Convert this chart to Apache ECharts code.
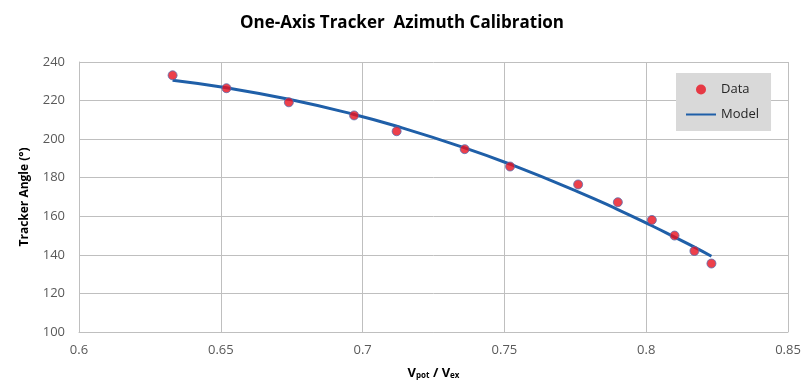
<!DOCTYPE html>
<html>
<head>
<meta charset="utf-8">
<script src="https://cdn.jsdelivr.net/npm/echarts@6/dist/echarts.min.js"></script>
<style>
html, body { margin: 0; padding: 0; background: #fff; }
#chart { width: 804px; height: 390px; }
</style>
</head>
<body>
<div id="chart"></div>
<script>
// measured points
var ratioData = [0.633, 0.652, 0.674, 0.697, 0.712, 0.736, 0.752, 0.776, 0.790, 0.802, 0.810, 0.817, 0.823];
var angleData = [233.1, 226.4, 219.1, 212.3, 204.1, 194.8, 185.8, 176.5, 167.3, 158.1, 150.0, 142.0, 135.5];
// fitted model read at the same ratios
var modelData = [230.5, 226.6, 220.7, 212.8, 206.7, 195.5, 187.0, 172.7, 163.5, 155.1, 149.2, 144.0, 139.3];

var chart = echarts.init(document.getElementById('chart'));

function pairs(xs, ys) {
    var out = [];
    for (var i = 0; i < xs.length; i++) {
        out.push([xs[i], ys[i]]);
    }
    return out;
}

var option = {
    animation: false,
    textStyle: { fontFamily: 'Open Sans' },
    title: {
        text: 'One-Axis Tracker  Azimuth Calibration',
        left: 'center',
        top: 10,
        textStyle: {
            fontFamily: 'Open Sans',
            fontSize: 17,
            fontWeight: 'bold',
            color: '#000'
        }
    },
    grid: {
        left: 79,
        right: 16,
        top: 62,
        bottom: 58
    },
    legend: {
        orient: 'vertical',
        left: 676,
        top: 73,
        width: 95,
        padding: [10, 12, 10, 10],
        itemGap: 12,
        backgroundColor: '#d9d9d9',
        itemWidth: 30,
        itemHeight: 10,
        textStyle: { color: '#262626', fontSize: 13, fontFamily: 'Open Sans' },
        data: [
            { name: 'Data', icon: 'circle', itemStyle: { color: '#e8101e', borderWidth: 0 } },
            { name: 'Model', icon: 'path://M0,4 L30,4 L30,6 L0,6 Z', itemStyle: { color: '#1f5fa8' } }
        ]
    },
    xAxis: {
        type: 'value',
        min: 0.6,
        max: 0.85,
        interval: 0.05,
        name: '{b|V}{s|pot}{b| / V}{s|ex}',
        nameLocation: 'middle',
        nameGap: 34,
        nameTextStyle: {
            rich: {
                b: { fontSize: 13, fontWeight: 'bold', color: '#000', fontFamily: 'Open Sans' },
                s: { fontSize: 8, fontWeight: 'bold', color: '#000', fontFamily: 'Open Sans', verticalAlign: 'bottom', padding: [6, 0, 0, 0] }
            }
        },
        axisLine: { show: true, lineStyle: { color: '#bfbfbf', width: 1 } },
        axisTick: { show: false },
        axisLabel: { color: '#595959', fontSize: 13, margin: 12 },
        splitLine: { show: true, lineStyle: { color: '#bfbfbf', width: 1 } }
    },
    yAxis: {
        type: 'value',
        min: 100,
        max: 240,
        interval: 20,
        name: 'Tracker Angle (°)',
        nameLocation: 'middle',
        nameGap: 48,
        nameTextStyle: { fontSize: 12, fontWeight: 'bold', color: '#000' },
        axisLine: { show: true, lineStyle: { color: '#bfbfbf', width: 1 } },
        axisTick: { show: false },
        axisLabel: { color: '#595959', fontSize: 13, margin: 14 },
        splitLine: { show: true, lineStyle: { color: '#bfbfbf', width: 1 } }
    },
    series: [{
        name: 'Data',
        type: 'scatter',
        symbolSize: 9,
        itemStyle: { color: '#e8101e', borderColor: '#5a6fb0', borderWidth: 1 },
        data: pairs(ratioData, angleData),
        z: 3
    }, {
        name: 'Model',
        type: 'line',
        smooth: true,
        symbol: 'none',
        lineStyle: { color: '#1f5fa8', width: 3 },
        itemStyle: { color: '#1f5fa8' },
        data: pairs(ratioData, modelData),
        z: 2
    }]
};
chart.setOption(option);
</script>
</body>
</html>
